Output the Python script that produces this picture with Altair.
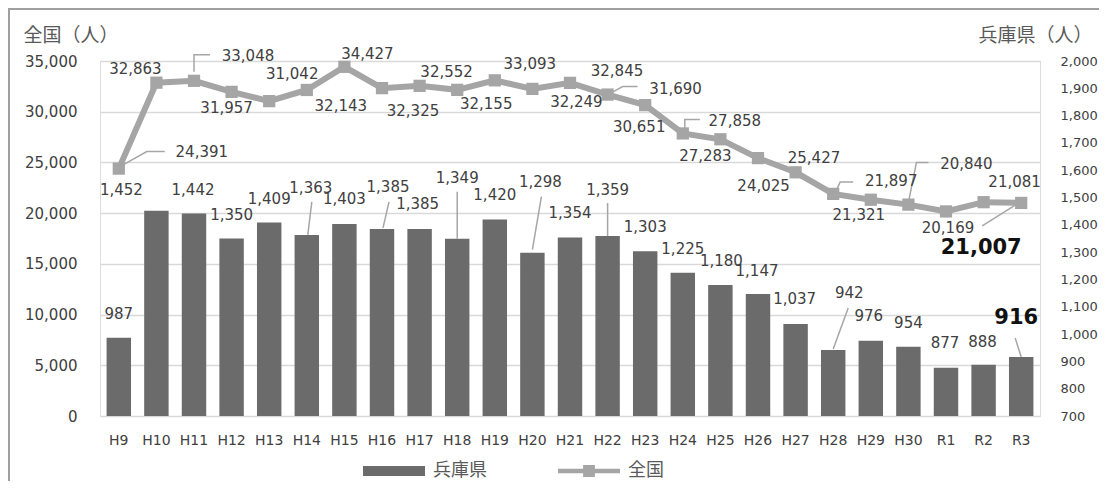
import altair as alt
import pandas as pd

categories = ["H9", "H10", "H11", "H12", "H13", "H14", "H15", "H16", "H17", "H18",
              "H19", "H20", "H21", "H22", "H23", "H24", "H25", "H26", "H27", "H28",
              "H29", "H30", "R1", "R2", "R3"]
hyogo = [987, 1452, 1442, 1350, 1409, 1363, 1403, 1385, 1385, 1349, 1420, 1298, 1354,
         1359, 1303, 1225, 1180, 1147, 1037, 942, 976, 954, 877, 888, 916]
zenkoku = [24391, 32863, 33048, 31957, 31042, 32143, 34427, 32325, 32552, 32155, 33093,
           32249, 32845, 31690, 30651, 27858, 27283, 25427, 24025, 21897, 21321, 20840,
           20169, 21081, 21007]
series_names = ["兵庫県", "全国"]

# label placement: pixel offsets from each data point
bar_label_dx = [0, -35, -1, 0, 0, 4, 0, 6, -2, 0, 0, 8, 0, 0, 0, 0, 1, -1, -1, 16, -2, 0, -1, -1, -5]
bar_label_dy = [-24, -21, -23, -24, -23, -47, -25, -42, -25, -61, -24, -71, -24, -46, -24, -24,
                -24, -23, -25, -57, -25, -24, -25, -23, -39]
line_label_dx = [83, -21, 54, -5, 23, 34, 23, 31, 27, 29, 35, 44, 47, 68, -6, 52, -15, 56, -32,
                 58, -12, 58, 2, 31, -40]
line_label_dy = [-17, -14, -25, 16, -27, 16, -13, 23, -14, 14, -16, 13, -12, -6, 22, -12, 17, 0,
                 14, -13, 15, -41, 17, -20, 45]

# leader lines (pixel offsets from the data point)
bar_leaders = {
    "H14": [(1, 0), (5, -33)],
    "H16": [(1, -1), (7, -27)],
    "H18": [(0, 0), (0, -47)],
    "H20": [(0, -3), (9, -56)],
    "H22": [(0, 0), (0, -33)],
    "H28": [(0, -1), (15, -42)],
    "R3": [(0, 0), (-6, -19)],
}
line_leaders = {
    "H9": [(1, -2), (28, -17), (46, -17)],
    "H11": [(0, -9), (0, -26), (16, -26)],
    "H22": [(4, -2), (15, -8), (30, -8)],
    "H24": [(2, -1), (2, -14), (17, -14)],
    "H28": [(2, -1), (7, -12), (20, -12)],
    "H30": [(0, -2), (8, -42), (20, -42)],
    "R3": [(-1, -1), (-39, 23)],
}

df = pd.DataFrame({
    "cat": categories, "hyo": hyogo, "zen": zenkoku, "idx": list(range(len(categories))),
    "bdx": bar_label_dx, "bdy": bar_label_dy, "ldx": line_label_dx, "ldy": line_label_dy,
})
last = len(categories) - 1


def leader_frame(leaders, values):
    rows = []
    for seg, (cat, pts) in enumerate(leaders.items()):
        v = values[categories.index(cat)]
        for k, (ox, oy) in enumerate(pts):
            rows.append({"seg": seg, "k": k, "cat": cat, "v": v, "ox": ox, "oy": oy})
    return pd.DataFrame(rows)


bar_lead_df = leader_frame(bar_leaders, hyogo)
line_lead_df = leader_frame(line_leaders, zenkoku)

NUM_FONT = "DejaVu Sans"
JP_FONT = "Noto Sans CJK JP"
TXT = "#404040"
BAR_C = "#6b6b6b"
LINE_C = "#a5a5a5"

x_enc = alt.X("cat:N", sort=categories,
              scale=alt.Scale(paddingInner=0.35, paddingOuter=0.175),
              axis=alt.Axis(title=None, labelAngle=0, domain=False, ticks=False,
                            labelPadding=17, labelFontSize=14, labelColor=TXT,
                            labelFont=NUM_FONT))

y_line_scale = alt.Scale(domain=[0, 35000], nice=False, zero=True)
y_line_axis = alt.Axis(orient="left", values=list(range(0, 35001, 5000)), format=",d",
                       title="全国（人）", titleAngle=0, titleX=-77, titleY=-26,
                       titleAlign="left", titleBaseline="middle", titleFont=JP_FONT,
                       titleFontSize=19, titleFontWeight="normal", titleColor="#595959",
                       grid=True, gridColor="#d9d9d9", gridWidth=1.5, domain=False,
                       ticks=False, labelPadding=23, labelFontSize=15, labelColor=TXT,
                       labelFont=NUM_FONT)
y_bar_scale = alt.Scale(domain=[700, 2000], nice=False, zero=False)
y_bar_axis = alt.Axis(orient="right", values=list(range(700, 2001, 100)), format=",d",
                      title="兵庫県（人）", titleAngle=0, titleX=52, titleY=-26,
                      titleAlign="right", titleBaseline="middle", titleFont=JP_FONT,
                      titleFontSize=19, titleFontWeight="normal", titleColor="#595959",
                      grid=False, domain=False, ticks=False, labelPadding=20,
                      labelFontSize=13, labelColor=TXT, labelFont=NUM_FONT)


def y_bar(field):
    return alt.Y(field, scale=y_bar_scale, axis=y_bar_axis)


def y_line(field):
    return alt.Y(field, scale=y_line_scale, axis=y_line_axis)


base = alt.Chart(df)

bars = base.mark_bar(color=BAR_C).encode(x=x_enc, y=y_bar("hyo:Q"), y2=alt.datum(700))
bar_lead = alt.Chart(bar_lead_df).mark_line(
    color="#a6a6a6", strokeWidth=1.5,
    xOffset=alt.expr("datum.ox"), yOffset=alt.expr("datum.oy")
).encode(x=x_enc, y=y_bar("v:Q"), detail="seg:N", order="k:Q")
bar_text = base.transform_filter(f"datum.idx < {last}").mark_text(
    font=NUM_FONT, fontSize=15, color=TXT, align="center", baseline="middle",
    dx=alt.expr("datum.bdx"), dy=alt.expr("datum.bdy")
).encode(x=x_enc, y=y_bar("hyo:Q"), text=alt.Text("hyo:Q", format=",d"))
bar_text_b = base.transform_filter(f"datum.idx == {last}").mark_text(
    font=NUM_FONT, fontSize=21, fontWeight="bold", color="#111111", align="center",
    baseline="middle", dx=alt.expr("datum.bdx"), dy=alt.expr("datum.bdy")
).encode(x=x_enc, y=y_bar("hyo:Q"), text=alt.Text("hyo:Q", format=",d"))

bar_group = alt.layer(bars, bar_lead, bar_text, bar_text_b)

line_lead = alt.Chart(line_lead_df).mark_line(
    color="#a6a6a6", strokeWidth=1.5,
    xOffset=alt.expr("datum.ox"), yOffset=alt.expr("datum.oy")
).encode(x=x_enc, y=y_line("v:Q"), detail="seg:N", order="k:Q")
line = base.mark_line(color=LINE_C, strokeWidth=6).encode(
    x=x_enc, y=y_line("zen:Q"), order="idx:Q")
pts = base.mark_point(shape="square", size=150, filled=True, color=LINE_C, opacity=1).encode(
    x=x_enc, y=y_line("zen:Q"))
line_text = base.transform_filter(f"datum.idx < {last}").mark_text(
    font=NUM_FONT, fontSize=15, color=TXT, align="center", baseline="middle",
    dx=alt.expr("datum.ldx"), dy=alt.expr("datum.ldy")
).encode(x=x_enc, y=y_line("zen:Q"), text=alt.Text("zen:Q", format=",d"))
line_text_b = base.transform_filter(f"datum.idx == {last}").mark_text(
    font=NUM_FONT, fontSize=21, fontWeight="bold", color="#111111", align="center",
    baseline="middle", dx=alt.expr("datum.ldx"), dy=alt.expr("datum.ldy")
).encode(x=x_enc, y=y_line("zen:Q"), text=alt.Text("zen:Q", format=",d"))

line_group = alt.layer(line_lead, line, pts, line_text, line_text_b)

# legend (symbols come from the shape scale; the layer itself draws nothing)
bar_path = "M-1,-0.16H1V0.16H-1Z"
line_path = "M-1,-0.07H1V0.07H-1Z M-0.19,-0.19H0.19V0.19H-0.19Z"
leg = alt.Legend(orient="none", legendX=263, legendY=379, direction="horizontal",
                 title=None, symbolSize=3844, symbolStrokeWidth=0, symbolOpacity=1,
                 labelFontSize=18, labelFont=JP_FONT, labelColor="#595959", labelOffset=8,
                 columnPadding=71)
legend_layer = alt.Chart(pd.DataFrame({"series": series_names})).transform_filter(
    "false"
).mark_point(filled=True).encode(
    color=alt.Color("series:N", scale=alt.Scale(domain=series_names, range=[BAR_C, LINE_C]),
                    legend=leg),
    shape=alt.Shape("series:N", scale=alt.Scale(domain=series_names,
                                                range=[bar_path, line_path]), legend=leg),
)

frame_df = pd.DataFrame({"a": [0]})
frame_left = alt.Chart(frame_df).mark_rule(color="#a0a0a0", strokeWidth=2).encode(
    x=alt.value(-91), y=alt.value(-53), y2=alt.value(440))
frame_top = alt.Chart(frame_df).mark_rule(color="#a0a0a0", strokeWidth=2).encode(
    x=alt.value(-92), x2=alt.value(1010), y=alt.value(-52))

chart = alt.layer(bar_group, line_group, legend_layer, frame_left, frame_top).resolve_scale(
    y="independent"
).properties(
    width=940, height=355,
    padding={"left": 92, "top": 53, "right": 59, "bottom": 65},
    autosize=alt.AutoSizeParams(type="none"),
).configure_view(stroke=None).configure(background="white")

chart.save("out.html", embed_options={"renderer": "svg", "actions": False})
